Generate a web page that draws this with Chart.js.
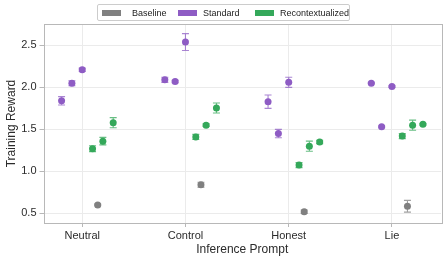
<!DOCTYPE html>
<html>
<head>
<meta charset="utf-8">
<script src="https://cdn.jsdelivr.net/npm/chart.js@4"></script>
<style>
  html, body { margin: 0; padding: 0; background: #fff; }
  #wrap { position: relative; width: 448px; height: 262px; font-family: "Liberation Sans", Arial, sans-serif; }
  #legend { position: absolute; left: 97px; top: 4px; width: 253px; height: 17px; border: 1px solid #cccccc; border-radius: 2px; box-sizing: border-box; background: #fff; }
  #legend .patch { position: absolute; top: 5px; width: 19px; height: 6px; }
  #legend .lbl { position: absolute; top: 2px; font-size: 9px; color: #222; line-height: 12px; }
</style>
</head>
<body>
<div id="wrap">
  <canvas id="chart" width="448" height="262"></canvas>
  <div id="legend"></div>
</div>
<script>
// categories on the x axis
const categories = ['Neutral', 'Control', 'Honest', 'Lie'];
const yTicks = [0.5, 1.0, 1.5, 2.0, 2.5];

// three runs per series, placed side by side within each category
const standardOffsets = [-0.2, -0.1, 0.0];
const recontextOffsets = [0.1, 0.2, 0.3];
const baselineOffset = 0.15;

// values per category (one row per category, one column per run)
const standardValues = [
  [1.84, 2.05, 2.21],
  [2.09, 2.07, 2.54],
  [1.83, 1.45, 2.06],
  [2.05, 1.53, 2.01],
];
const standardErrors = [
  [0.05, 0.03, 0.02],
  [0.03, 0.015, 0.10],
  [0.08, 0.05, 0.06],
  [0.01, 0.01, 0.01],
];
const recontextValues = [
  [1.27, 1.36, 1.58],
  [1.41, 1.55, 1.755],
  [1.075, 1.30, 1.35],
  [1.42, 1.55, 1.56],
];
const recontextErrors = [
  [0.035, 0.045, 0.06],
  [0.03, 0.015, 0.06],
  [0.03, 0.06, 0.02],
  [0.03, 0.06, 0.01],
];
const baselineValues = [0.60, 0.84, 0.52, 0.585];
const baselineErrors = [0.01, 0.03, 0.02, 0.07];

const COLORS = {
  Baseline: '#808080',
  Standard: '#8e5cc4',
  Recontextualized: '#34a85a',
};

function toPoints(values, errors, offsets) {
  const pts = [];
  values.forEach((row, ci) => {
    row.forEach((v, k) => pts.push({ x: ci + offsets[k], y: v, err: errors[ci][k] }));
  });
  return pts;
}

const datasets = [
  {
    label: 'Standard',
    data: toPoints(standardValues, standardErrors, standardOffsets),
    backgroundColor: COLORS.Standard,
    borderColor: COLORS.Standard,
  },
  {
    label: 'Recontextualized',
    data: toPoints(recontextValues, recontextErrors, recontextOffsets),
    backgroundColor: COLORS.Recontextualized,
    borderColor: COLORS.Recontextualized,
  },
  {
    label: 'Baseline',
    data: baselineValues.map((v, ci) => ({ x: ci + baselineOffset, y: v, err: baselineErrors[ci] })),
    backgroundColor: COLORS.Baseline,
    borderColor: COLORS.Baseline,
  },
].map((ds) => ({ ...ds, pointRadius: 3.5, pointHoverRadius: 3.5, borderWidth: 0 }));

// error bars with caps, drawn under the markers
const errorBars = {
  id: 'errorBars',
  beforeDatasetsDraw(chart) {
    const { ctx } = chart;
    const yScale = chart.scales.y;
    chart.data.datasets.forEach((ds, i) => {
      const meta = chart.getDatasetMeta(i);
      ctx.save();
      ctx.strokeStyle = ds.borderColor;
      ctx.globalAlpha = 0.75;
      ctx.lineWidth = 1.1;
      meta.data.forEach((el, j) => {
        const p = ds.data[j];
        const top = yScale.getPixelForValue(p.y + p.err);
        const bot = yScale.getPixelForValue(p.y - p.err);
        ctx.beginPath();
        ctx.moveTo(el.x, top); ctx.lineTo(el.x, bot);
        ctx.moveTo(el.x - 3.5, top); ctx.lineTo(el.x + 3.5, top);
        ctx.moveTo(el.x - 3.5, bot); ctx.lineTo(el.x + 3.5, bot);
        ctx.stroke();
      });
      ctx.restore();
    });
  },
};

// full frame around the plot area
const frame = {
  id: 'frame',
  afterDraw(chart) {
    const { ctx, chartArea: a } = chart;
    ctx.save();
    ctx.strokeStyle = '#b8b8b8';
    ctx.lineWidth = 1;
    ctx.strokeRect(Math.round(a.left) + 0.5, Math.round(a.top) + 0.5,
      Math.round(a.right - a.left), Math.round(a.bottom - a.top));
    ctx.restore();
  },
};

const tickFont = { family: '"Liberation Sans", Arial, sans-serif', size: 11 };
const titleFont = { family: '"Liberation Sans", Arial, sans-serif', size: 12 };

new Chart(document.getElementById('chart'), {
  type: 'scatter',
  data: { datasets },
  options: {
    responsive: false,
    animation: false,
    layout: { padding: { top: 24, right: 7, left: 0, bottom: 0 } },
    plugins: { legend: { display: false }, tooltip: { enabled: false } },
    scales: {
      x: {
        type: 'linear',
        min: -0.375,
        max: 3.475,
        afterBuildTicks: (s) => { s.ticks = categories.map((_, i) => ({ value: i })); },
        afterFit: (s) => { s.height = 39; },
        ticks: {
          callback: (v) => categories[v],
          color: '#2b2b2b',
          font: tickFont,
          padding: 2,
          maxRotation: 0,
        },
        grid: { color: '#ebebeb', tickColor: '#b8b8b8', tickLength: 4 },
        border: { display: false },
        title: { display: true, text: 'Inference Prompt', color: '#2b2b2b', font: titleFont, padding: { top: 0, bottom: 5 } },
      },
      y: {
        min: 0.385,
        max: 2.755,
        afterBuildTicks: (s) => { s.ticks = yTicks.map((v) => ({ value: v })); },
        afterFit: (s) => { s.width = 43.5; },
        ticks: {
          callback: (v) => v.toFixed(1),
          color: '#2b2b2b',
          font: tickFont,
          padding: 3,
        },
        grid: { color: '#ebebeb', tickColor: '#b8b8b8', tickLength: 4 },
        border: { display: false },
        title: { display: true, text: 'Training Reward', color: '#2b2b2b', font: titleFont, padding: { top: 4, bottom: 0 } },
      },
    },
  },
  plugins: [errorBars, frame],
});

// legend: patches + labels, in the reference's order
const legendItems = [
  { label: 'Baseline', patchX: 4, textX: 34 },
  { label: 'Standard', patchX: 80, textX: 105 },
  { label: 'Recontextualized', patchX: 157, textX: 182 },
];
const legend = document.getElementById('legend');
legendItems.forEach((it) => {
  const p = document.createElement('div');
  p.className = 'patch';
  p.style.left = it.patchX + 'px';
  p.style.background = COLORS[it.label];
  legend.appendChild(p);
  const t = document.createElement('div');
  t.className = 'lbl';
  t.style.left = it.textX + 'px';
  t.textContent = it.label;
  legend.appendChild(t);
});
</script>
</body>
</html>
